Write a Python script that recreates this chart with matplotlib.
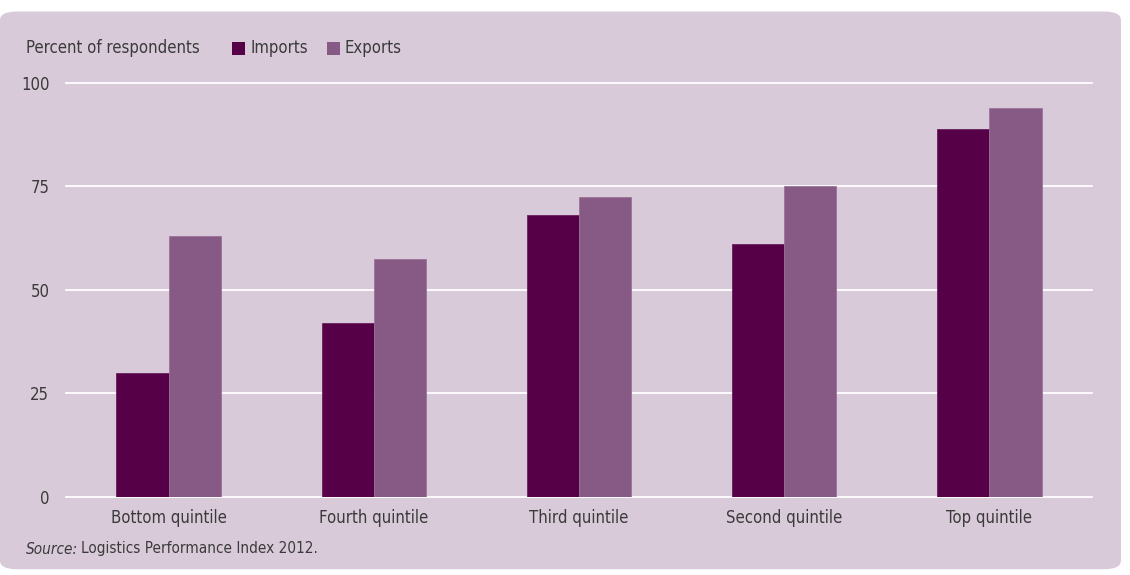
import numpy as np
import matplotlib.pyplot as plt
from matplotlib.patches import FancyBboxPatch, Rectangle

# data
categories = ['Bottom quintile', 'Fourth quintile', 'Third quintile', 'Second quintile', 'Top quintile']
imports = [30, 42, 68, 61, 89]
exports = [63, 57.5, 72.5, 75, 94]
yticks = [0, 25, 50, 75, 100]

bg = '#d9cad9'
c_imp = '#560047'
c_exp = '#875a85'
txt = '#3a3a3a'

plt.rcParams['font.family'] = ['Liberation Sans Narrow', 'DejaVu Sans']
plt.rcParams['font.stretch'] = 'condensed'

fig = plt.figure(figsize=(11.3, 5.75), dpi=100)
fig.patch.set_facecolor('white')

# rounded panel behind everything
panel = FancyBboxPatch((0.0, 0.01), 0.992, 0.97, boxstyle='round,pad=0,rounding_size=0.015',
                       transform=fig.transFigure, facecolor=bg, edgecolor='none', zorder=-5)
fig.patches.append(panel)

ax = fig.add_axes([0.0584, 0.1357, 0.908, 0.72])
ax.set_facecolor('none')

x = np.arange(len(categories))
w = 0.254
ax.bar(x - w / 2, imports, w, color=c_imp, edgecolor='#6a1f5e', linewidth=0.6, zorder=3)
ax.bar(x + w / 2, exports, w, color=c_exp, edgecolor='#9a7498', linewidth=0.6, zorder=3)

ax.set_xlim(-0.5, 4.5)
ax.set_ylim(0, 100)
ax.set_yticks(yticks)
for t in yticks:
    ax.axhline(t, color='white', linewidth=1.3, zorder=1, clip_on=False)

ax.set_xticks(x)
ax.set_xticklabels(categories, fontsize=12, color=txt)
ax.tick_params(axis='x', length=0, pad=9)
ax.tick_params(axis='y', length=0, pad=12, labelsize=12, labelcolor=txt)
for s in ax.spines.values():
    s.set_visible(False)

# header and legend
fig.text(26 / 1130, 1 - 48 / 575, 'Percent of respondents', fontsize=12, color=txt, va='center')
fig.patches.append(Rectangle((232 / 1130, 1 - 55 / 575), 13 / 1130, 13 / 575,
                             transform=fig.transFigure, facecolor=c_imp, edgecolor='none'))
fig.text(250 / 1130, 1 - 48 / 575, 'Imports', fontsize=12, color=txt, va='center')
fig.patches.append(Rectangle((327 / 1130, 1 - 55 / 575), 13 / 1130, 13 / 575,
                             transform=fig.transFigure, facecolor=c_exp, edgecolor='none'))
fig.text(345 / 1130, 1 - 48 / 575, 'Exports', fontsize=12, color=txt, va='center')

# source note: italic part, then the rest right after it
s1 = fig.text(26 / 1130, 1 - 549 / 575, 'Source:', fontsize=11, color=txt, style='italic', va='center')
fig.canvas.draw()
bb = s1.get_window_extent()
fig.text(bb.x1 / fig.bbox.width + 3 / 1130, 1 - 549 / 575, 'Logistics Performance Index 2012.',
         fontsize=11, color=txt, va='center')

fig.savefig('out.png', dpi=100, facecolor=fig.get_facecolor())
